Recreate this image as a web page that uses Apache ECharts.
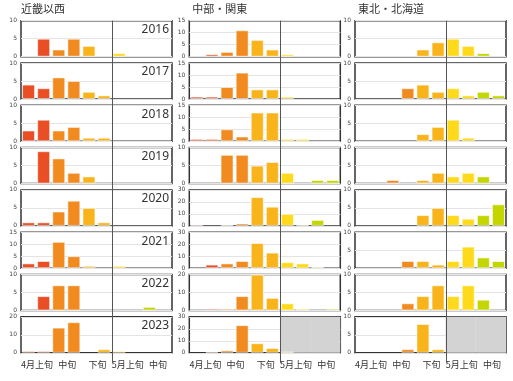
<!DOCTYPE html>
<html><head><meta charset="utf-8">
<script src="https://cdn.jsdelivr.net/npm/echarts@6/dist/echarts.min.js"></script>
<style>html,body{margin:0;padding:0;background:#fff}#c{width:513px;height:381px}</style>
</head><body><div id="c"></div>
<script>
// 10 half-dekad slots: April (6) + May (4)
const slots = ['4/1','4/6','4/11','4/16','4/21','4/26','5/1','5/6','5/11','5/16'];
const tickLabels = ['4月上旬','中旬','下旬','5月上旬','中旬'];
const tickIds = ['t0','t1','t2','t3','t4'];
const years = ['2016','2017','2018','2019','2020','2021','2022','2023'];
const regions = ['近畿以西','中部・関東','東北・北海道'];

const kinki = [
  [0,5,2,5,3,0,1,0,0,0],
  [4,3,6,5,2,1,0,0,0,0],
  [3,6,3,4,1,1,0,0,0,0],
  [0,9,7,3,2,0,0,0,0,0],
  [1,1,4,7,5,1,0,0,0,0],
  [2,3,11,5,1,0,1,0,0,0],
  [0,4,7,7,0,0,0,0,1,0],
  [1,1,14,17,0,2,1,0,0,0]
];
const chubu = [
  [0,1,2,11,7,3,1,0,0,0],
  [1,1,5,11,4,4,1,0,0,0],
  [1,1,5,2,12,12,1,1,0,0],
  [0,0,8,8,5,6,3,0,1,1],
  [1,0,1,2,24,16,10,1,5,0],
  [0,3,4,6,21,13,5,4,1,0],
  [0,1,1,8,20,7,4,1,0,1],
  [0,1,2,23,8,4,1,0,0,0]
];
const tohoku = [
  [0,0,0,0,2,4,5,3,1,0],
  [0,0,0,3,4,2,3,1,2,1],
  [0,0,0,0,2,4,6,1,0,0],
  [0,0,1,0,1,3,2,3,2,0],
  [0,0,0,0,3,5,3,2,3,6],
  [0,0,0,2,2,1,2,6,3,2],
  [0,0,0,2,4,7,4,7,3,0],
  [0,0,0,1,8,1,0,0,0,0]
];
const kinkiMax = [10,10,10,10,10,15,10,20];
const chubuMax = [15,15,15,10,30,30,20,30];
const tohokuMax = [10,10,10,10,10,10,10,10];
const kinkiStep = [5,5,5,5,5,5,5,10];
const chubuStep = [5,5,5,5,10,10,10,10];
const tohokuStep = [5,5,5,5,5,5,5,5];
// future (not yet observed) part of 2023, by tick group
const futureMask = [null,null,null,1,1];

const slotColors = ['#E94E24','#E94E24','#F18A1F','#F18A1F','#F8B41A','#F8B41A','#FFDA1A','#FFDA1A','#C4D600','#C4D600'];

const regionData = [kinki, chubu, tohoku];
const regionMax = [kinkiMax, chubuMax, tohokuMax];
const regionStep = [kinkiStep, chubuStep, tohokuStep];

const colLeft = [21, 189.3, 355];
const colW = 151;
const rowTop0 = 20.7, rowPitch = 42.3, rowH = 36;
const FONT = '"Noto Sans CJK JP", "Noto Sans", sans-serif';

const grid = [], xAxis = [], yAxis = [], series = [], title = [];
regions.forEach((r, c) => {
  title.push({text: r, left: colLeft[c] + (c === 0 ? 0 : 3), top: 3, padding: 0,
    textStyle: {fontSize: 11, fontWeight: 'normal', color: '#333', fontFamily: FONT}});
});
for (let c = 0; c < 3; c++) {
  for (let r = 0; r < 8; r++) {
    const gi = grid.length;
    const top = rowTop0 + rowPitch * r;
    grid.push({left: colLeft[c], top: top, width: colW, height: rowH,
      show: true, borderColor: '#333', borderWidth: 1.5, backgroundColor: 'transparent'});
    const mainX = xAxis.length;
    xAxis.push({type: 'category', gridIndex: gi, data: slots,
      axisLine: {show: false}, axisTick: {show: false}, axisLabel: {show: false}, splitLine: {show: false}});
    const tickX = xAxis.length;
    xAxis.push({type: 'category', gridIndex: gi, data: tickIds, position: 'bottom',
      axisLine: {show: false}, axisTick: {show: false}, splitLine: {show: false},
      axisLabel: {show: r === 7, interval: 0, fontSize: 9, color: '#333', margin: 7, fontFamily: FONT,
        padding: [0, 0, 0, 2],
        formatter: (v) => tickLabels[tickIds.indexOf(v)]}});
    const yi = yAxis.length;
    yAxis.push({type: 'value', gridIndex: gi, min: 0, max: regionMax[c][r], interval: regionStep[c][r],
      axisLine: {show: false}, axisTick: {show: false},
      axisLabel: {fontSize: 6, color: '#444', margin: 4, fontFamily: 'DejaVu Sans'},
      splitLine: {show: true, lineStyle: {color: '#e4e4e4', width: 1}}});
    const vals = regionData[c][r];
    series.push({type: 'bar', xAxisIndex: mainX, yAxisIndex: yi, barCategoryGap: '14%', z: 3,
      data: vals.map((v, i) => v ? {value: v, itemStyle: {color: slotColors[i]}} : null),
      itemStyle: {borderColor: 'rgba(255,255,255,0.55)', borderWidth: 1}, silent: true, animation: false});
    if (r === 7 && c > 0) {
      series.push({type: 'bar', xAxisIndex: tickX, yAxisIndex: yi, barCategoryGap: 0, z: 1,
        data: futureMask.map(m => m ? regionMax[c][r] : null),
        itemStyle: {color: '#d3d3d3'}, silent: true, animation: false});
    }
    if (c === 0) {
      title.push({text: years[r], right: 513 - (colLeft[c] + colW) + 3, top: top + 3, padding: 0,
        textStyle: {fontSize: 12, fontWeight: 'normal', color: '#333', fontFamily: 'Noto Sans'}});
    }
  }
}

const chart = echarts.init(document.getElementById('c'), null, {renderer: 'canvas'});
chart.setOption({animation: false, title, grid, xAxis, yAxis, series});

// divider between April and May, derived from the axis scale
const graphic = [];
for (let c = 0; c < 3; c++) {
  const xa = c * 8 * 2; // main x axis of first row in column c
  const p5 = chart.convertToPixel({xAxisIndex: xa}, slots[5]);
  const p6 = chart.convertToPixel({xAxisIndex: xa}, slots[6]);
  const x = Math.round((p5 + p6) / 2) + 0.5;
  const yTop = chart.convertToPixel({yAxisIndex: c * 8}, regionMax[c][0]);
  const yBot = chart.convertToPixel({yAxisIndex: c * 8 + 7}, 0) + 10;
  graphic.push({type: 'line', z: 100, silent: true,
    shape: {x1: x, y1: yTop, x2: x, y2: yBot}, style: {stroke: '#555', lineWidth: 1}});
}
chart.setOption({graphic});
</script></body></html>
